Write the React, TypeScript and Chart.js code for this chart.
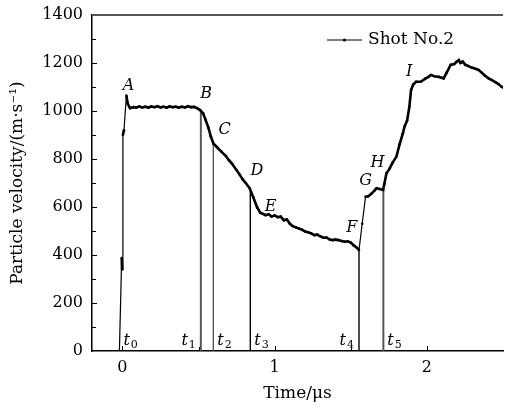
import React, { useEffect, useRef } from "react";
import { Chart, registerables } from "chart.js";

Chart.register(...registerables);

// ---- data ----
const seriesLabel = "Shot No.2";
const timeUs = [
  -0.02, -0.005, -0.002, 0.003, 0.01, 0.026, 0.035, 0.05, 0.07, 0.09,
  0.11, 0.13, 0.15, 0.17, 0.19, 0.21, 0.23, 0.25, 0.27, 0.29,
  0.31, 0.33, 0.35, 0.37, 0.39, 0.41, 0.43, 0.45, 0.47, 0.49,
  0.51, 0.53, 0.545, 0.565, 0.58, 0.597, 0.62, 0.651, 0.68, 0.7,
  0.72, 0.749, 0.77, 0.79, 0.81, 0.836, 0.86, 0.885, 0.905, 0.92,
  0.94, 0.96, 0.98, 1.0, 1.02, 1.04, 1.06, 1.08, 1.1, 1.12,
  1.14, 1.16, 1.18, 1.2, 1.22, 1.24, 1.26, 1.28, 1.3, 1.32,
  1.34, 1.36, 1.38, 1.4, 1.42, 1.44, 1.46, 1.48, 1.5, 1.52,
  1.54, 1.554, 1.575, 1.597, 1.615, 1.635, 1.655, 1.669, 1.69, 1.712,
  1.72, 1.734, 1.755, 1.775, 1.8, 1.82, 1.842, 1.853, 1.87, 1.885,
  1.896, 1.91, 1.929, 1.96, 1.99, 2.01, 2.026, 2.05, 2.08, 2.11,
  2.13, 2.156, 2.18, 2.195, 2.21, 2.22, 2.235, 2.253, 2.27, 2.29,
  2.31, 2.34, 2.36, 2.38, 2.405, 2.427, 2.45, 2.47, 2.49, 2.51,
];
const velocity = [
  0, 387, 340, 900, 920, 1064, 1030, 1012, 1016, 1014,
  1019, 1015, 1018, 1014, 1019, 1016, 1020, 1015, 1018, 1014,
  1019, 1016, 1018, 1014, 1018, 1015, 1020, 1016, 1017, 1012,
  1004, 990, 965, 930, 895, 865, 850, 830, 812, 795,
  780, 754, 735, 715, 700, 678, 640, 598, 576, 572,
  566, 570, 560, 565, 558, 560, 545, 548, 530, 520,
  515, 510, 505, 498, 495, 490, 483, 485, 478, 472,
  473, 465, 462, 464, 462, 458, 455, 457, 452, 440,
  430, 421, 530, 643, 645, 655, 668, 678, 675, 671,
  695, 740, 760, 785, 810, 860, 907, 935, 960, 1018,
  1087, 1110, 1122, 1122, 1135, 1142, 1150, 1145, 1142, 1136,
  1160, 1192, 1196, 1205, 1212, 1200, 1206, 1192, 1188, 1182,
  1178, 1171, 1160, 1148, 1136, 1129, 1120, 1112, 1101, 1095,
];

// characteristic instants (µs) and the velocity the line reaches there
const markNames = ["1", "2", "3", "4", "5"];
const markTimes = [0.515, 0.597, 0.84, 1.554, 1.714];
const markTops = [1004, 865, 678, 421, 678];
const markSide = [-1, 1, 1, -1, 1];
const t0Name = "0";
const t0Time = -0.02;

// point labels (data units)
const pointNames = ["A", "B", "C", "D", "E", "F", "G", "H", "I"];
const pointTimes = [0.04, 0.55, 0.672, 0.883, 0.974, 1.506, 1.597, 1.675, 1.883];
const pointVels = [1104, 1071, 921, 750, 600, 512, 708, 783, 1162];

const xMajor = [0, 1, 2];
const xMinor = [0.5, 1.5];
const yMin = 0;
const yMax = 1400;
const yStep = 200;
const yMinorStep = 100;

const FONT = "'DejaVu Serif', serif";

const decorPlugin = {
  id: "decor",
  afterDatasetsDraw(chart: any) {
    const { ctx, chartArea: ca, scales } = chart;
    const x = scales.x;
    const y = scales.y;
    ctx.save();
    // top frame line
    ctx.strokeStyle = "#555";
    ctx.lineWidth = 2;
    ctx.beginPath();
    ctx.moveTo(ca.left, ca.top);
    ctx.lineTo(ca.right, ca.top);
    ctx.stroke();

    // inward ticks
    ctx.strokeStyle = "#000";
    ctx.lineWidth = 1;
    ctx.beginPath();
    for (let v = yMin + yMinorStep; v < yMax; v += yMinorStep) {
      const py = Math.round(y.getPixelForValue(v)) + 0.5;
      const len = v % yStep === 0 ? 5 : 4;
      ctx.moveTo(ca.left, py);
      ctx.lineTo(ca.left + len, py);
    }
    for (const v of xMajor) {
      const px = Math.round(x.getPixelForValue(v)) + 0.5;
      ctx.moveTo(px, ca.bottom);
      ctx.lineTo(px, ca.bottom - 5);
    }
    for (const v of xMinor) {
      const px = Math.round(x.getPixelForValue(v)) + 0.5;
      ctx.moveTo(px, ca.bottom);
      ctx.lineTo(px, ca.bottom - 4);
    }
    ctx.stroke();

    // point letters
    ctx.fillStyle = "#000";
    ctx.font = `italic 16px ${FONT}`;
    ctx.textAlign = "center";
    ctx.textBaseline = "middle";
    pointNames.forEach((n, i) => {
      ctx.fillText(n, x.getPixelForValue(pointTimes[i]), y.getPixelForValue(pointVels[i]));
    });

    // t labels
    const drawT = (sub: string, t: number, side: number) => {
      const px = x.getPixelForValue(t);
      const base = ca.bottom - 6;
      ctx.font = `italic 16px ${FONT}`;
      const tw = ctx.measureText("t").width;
      ctx.font = `11px ${FONT}`;
      const sw = ctx.measureText(sub).width;
      const total = tw + 1 + sw;
      const startX = side > 0 ? px + 4 : px - 5 - total;
      ctx.textAlign = "left";
      ctx.textBaseline = "alphabetic";
      ctx.font = `italic 16px ${FONT}`;
      ctx.fillText("t", startX, base);
      ctx.font = `11px ${FONT}`;
      ctx.fillText(sub, startX + tw + 1, base + 3);
    };
    drawT(t0Name, t0Time, 1);
    markNames.forEach((n, i) => drawT(n, markTimes[i], markSide[i]));

    // legend
    const ly = ca.top + 25;
    const lx0 = ca.right - 176;
    const lx1 = ca.right - 141;
    ctx.beginPath();
    ctx.lineWidth = 1;
    ctx.moveTo(lx0, ly);
    ctx.lineTo(lx1, ly);
    ctx.stroke();
    ctx.beginPath();
    ctx.arc((lx0 + lx1) / 2, ly, 1.6, 0, Math.PI * 2);
    ctx.fill();
    ctx.font = `17px ${FONT}`;
    ctx.textAlign = "left";
    ctx.textBaseline = "middle";
    ctx.fillText(chart.data.datasets[0].label, lx1 + 6, ly);
    ctx.restore();
  },
};

export default function App() {
  const ref = useRef<HTMLCanvasElement | null>(null);

  useEffect(() => {
    if (!ref.current) return;
    const mainData = timeUs.map((t, i) => ({ x: t, y: velocity[i] }));
    const markSets = markTimes.map((t, i) => ({
      label: "t" + markNames[i],
      data: [
        { x: t, y: 0 },
        { x: t, y: markTops[i] },
      ],
      borderColor: i === 0 || i === 1 || i === 4 ? "#555" : "#000",
      borderWidth: i === 0 || i === 4 ? 2 : 1.4,
      pointRadius: 0,
      order: 2,
    }));
    const chart = new Chart(ref.current, {
      type: "line",
      data: {
        datasets: [
          {
            label: seriesLabel,
            data: mainData,
            borderColor: "#000",
            backgroundColor: "#000",
            borderWidth: 2.6,
            pointRadius: 1.3,
            pointBorderWidth: 0,
            pointBackgroundColor: "#000",
            tension: 0,
            order: 0,
            segment: {
              borderWidth: (c: any) =>
                Math.abs(c.p1.parsed.y - c.p0.parsed.y) > 100 ? 1.2 : 2.6,
            },
          } as any,
          ...markSets,
        ],
      },
      options: {
        animation: false,
        responsive: false,
        layout: { padding: { top: 15, right: 0, left: 0, bottom: 0 } },
        plugins: { legend: { display: false }, tooltip: { enabled: false } },
        scales: {
          x: {
            type: "linear",
            min: -0.2,
            max: 2.5,
            grid: { display: false, drawTicks: false },
            border: { display: true, color: "#000", width: 1.5 },
            afterBuildTicks: (s: any) => {
              s.ticks = xMajor.map((v) => ({ value: v }));
            },
            afterFit: (s: any) => {
              s.height = 59;
              s.paddingLeft = 0;
              s.paddingRight = 0;
            },
            ticks: {
              padding: 7,
              color: "#000",
              font: { family: FONT, size: 16 },
              maxRotation: 0,
              callback: (v: any) => String(v),
            },
            title: {
              display: true,
              text: "Time/μs",
              color: "#000",
              font: { family: FONT, size: 17 },
              padding: { bottom: 6, top: 0 },
            },
          },
          y: {
            type: "linear",
            min: yMin,
            max: yMax,
            grid: { display: false, drawTicks: false },
            border: { display: true, color: "#000", width: 1.5 },
            afterFit: (s: any) => {
              s.width = 92;
              s.paddingTop = 0;
              s.paddingBottom = 0;
            },
            ticks: {
              stepSize: yStep,
              padding: 9,
              color: "#000",
              font: { family: FONT, size: 16 },
              callback: (v: any) => String(v),
            },
            title: {
              display: true,
              text: "Particle velocity/(m·s⁻¹)",
              color: "#000",
              font: { family: FONT, size: 17 },
              padding: { top: 7, bottom: 0 },
            },
          },
        },
      },
      plugins: [decorPlugin],
    } as any);
    return () => chart.destroy();
  }, []);

  return (
    <div style={{ position: "absolute", left: 0, top: 0, width: 507, height: 410, background: "#fff" }}>
      <canvas ref={ref} width={507} height={410} style={{ width: 507, height: 410 }} />
    </div>
  );
}
